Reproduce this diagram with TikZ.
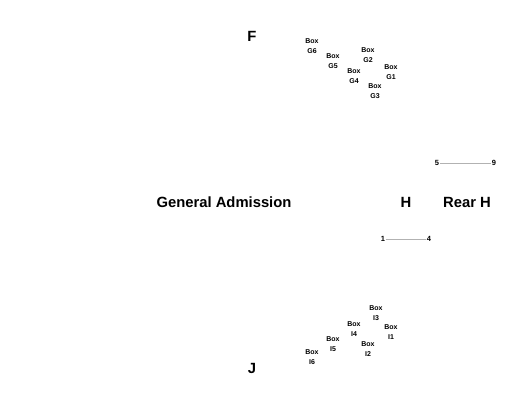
\documentclass[tikz,border=0pt]{standalone}
\usepackage{fontspec}
\setmainfont{Liberation Sans}
\begin{document}
\begin{tikzpicture}[x=1pt,y=-1pt,
  big/.style={font=\bfseries\fontsize{14.8}{16}\selectfont, inner sep=0pt},
  boxlbl/.style={font=\bfseries\fontsize{7}{10}\selectfont, align=center, inner sep=0pt},
  num/.style={font=\bfseries\fontsize{7.5}{8}\selectfont, inner sep=0.5pt},
  rail/.style={draw=black!30, line width=0.6pt}]
\useasboundingbox (0,0) rectangle (525,400);
\node[big] (F) at (252,36) {F};
\node[big] (J) at (252,368) {J};
\node[big] (GA) at (224,202) {General Admission};
\node[big] (H) at (406,202) {H};
\node[big] (RH) at (467,202) {Rear H};
\node[boxlbl] (G6) at (312,46) {Box\\G6};
\node[boxlbl] (G5) at (333,61) {Box\\G5};
\node[boxlbl] (G2) at (368,55) {Box\\G2};
\node[boxlbl] (G1) at (391,72) {Box\\G1};
\node[boxlbl] (G4) at (354,76) {Box\\G4};
\node[boxlbl] (G3) at (375,91) {Box\\G3};
\node[boxlbl] (I3) at (376,313) {Box\\I3};
\node[boxlbl] (I1) at (391,332) {Box\\I1};
\node[boxlbl] (I4) at (354,329) {Box\\I4};
\node[boxlbl] (I2) at (368,349) {Box\\I2};
\node[boxlbl] (I5) at (333,344) {Box\\I5};
\node[boxlbl] (I6) at (312,357) {Box\\I6};
\node[num] (n5) at (437,163) {5};
\node[num] (n9) at (494,163) {9};
\node[num] (n1) at (383,239) {1};
\node[num] (n4) at (429,239) {4};
\draw[rail] (n5) -- (n9);
\draw[rail] (n1) -- (n4);
\end{tikzpicture}
\end{document}
